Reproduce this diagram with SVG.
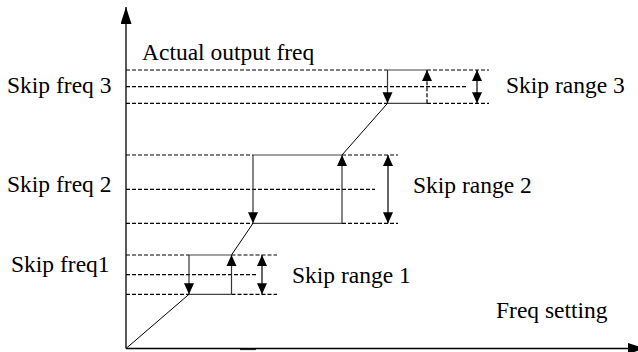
<svg xmlns="http://www.w3.org/2000/svg" width="638" height="352" viewBox="0 0 638 352">
  <defs>
    <marker id="ah" markerUnits="userSpaceOnUse" markerWidth="11" markerHeight="11" refX="11" refY="5" orient="auto-start-reverse" viewBox="0 0 11 10">
      <path d="M0,0 L11,5 L0,10 z" fill="#000"/>
    </marker>
    <marker id="axh" markerUnits="userSpaceOnUse" markerWidth="17" markerHeight="11" refX="17" refY="5.5" orient="auto" viewBox="0 0 17 11">
      <path d="M0,0 L17,5.5 L0,11 z" fill="#000"/>
    </marker>
    <style>
      .ax { stroke: #000; stroke-width: 1.3; fill: none; }
      .d { stroke: #000; stroke-width: 1.2; stroke-dasharray: 4 2; fill: none; }
      .s { stroke: #444; stroke-width: 1.2; fill: none; }
      .diag { stroke: #000; stroke-width: 1; fill: none; }
      .arr { stroke: #333; stroke-width: 1.2; fill: none; marker-end: url(#ah); }
      .arrd { stroke: #000; stroke-width: 1.2; stroke-dasharray: 4 2; fill: none; marker-end: url(#ah); }
      .dbl { stroke: #000; stroke-width: 1.2; fill: none; marker-start: url(#ah); marker-end: url(#ah); }
      text { font-family: "Liberation Serif", "Times New Roman", serif; font-size: 23.5px; fill: #000; }
    </style>
  </defs>
  <rect width="638" height="352" fill="#fff"/>

  <g id="axes">
    <line class="ax" x1="126" y1="348.5" x2="126" y2="7" marker-end="url(#axh)"/>
    <line class="ax" x1="126" y1="348.5" x2="645" y2="348.5" marker-end="url(#axh)"/>
    <line x1="240" y1="349.5" x2="256" y2="349.5" stroke="#222" stroke-width="1.2"/>
  </g>

  <g id="connectors">
    <!-- skip 3 band -->
    <line class="d" x1="126" y1="70" x2="387.5" y2="70"/>
    <line class="s" x1="387.5" y1="70" x2="427" y2="70"/>
    <line class="d" x1="427" y1="70" x2="489" y2="70"/>
    <line class="d" x1="126" y1="86.7" x2="467" y2="86.7"/>
    <line class="d" x1="126" y1="103.3" x2="387.5" y2="103.3"/>
    <line class="s" x1="387.5" y1="103.3" x2="427" y2="103.3"/>
    <line class="d" x1="427" y1="103.3" x2="489" y2="103.3"/>
    <line class="arr" x1="387.5" y1="70" x2="387.5" y2="103.3"/>
    <line class="arrd" x1="427" y1="103.3" x2="427" y2="70"/>
    <line class="dbl" x1="477" y1="70" x2="477" y2="103.3"/>

    <!-- skip 2 band -->
    <line class="d" x1="126" y1="155" x2="253" y2="155"/>
    <line class="s" x1="253" y1="155" x2="342" y2="155"/>
    <line class="d" x1="342" y1="155" x2="398" y2="155"/>
    <line class="d" x1="126" y1="189.3" x2="375" y2="189.3"/>
    <line class="d" x1="126" y1="223.3" x2="253" y2="223.3"/>
    <line class="s" x1="253" y1="223.3" x2="342" y2="223.3"/>
    <line class="d" x1="342" y1="223.3" x2="398" y2="223.3"/>
    <line class="arr" x1="253" y1="155" x2="253" y2="223.3"/>
    <line class="arr" x1="342" y1="223.3" x2="342" y2="155"/>
    <line class="dbl" x1="388" y1="155" x2="388" y2="223.3"/>

    <!-- skip 1 band -->
    <line class="d" x1="126" y1="255" x2="189" y2="255"/>
    <line class="s" x1="189" y1="255" x2="231.5" y2="255"/>
    <line class="d" x1="231.5" y1="255" x2="277" y2="255"/>
    <line class="d" x1="126" y1="274.7" x2="258" y2="274.7"/>
    <line class="d" x1="126" y1="294.3" x2="189" y2="294.3"/>
    <line class="s" x1="189" y1="294.3" x2="231.5" y2="294.3"/>
    <line class="d" x1="231.5" y1="294.3" x2="277" y2="294.3"/>
    <line class="arr" x1="189" y1="255" x2="189" y2="294.3"/>
    <line class="arr" x1="231.5" y1="294.3" x2="231.5" y2="255"/>
    <line class="dbl" x1="262" y1="255" x2="262" y2="294.3"/>

    <!-- ramp -->
    <line class="diag" x1="126" y1="348.5" x2="189" y2="294.3"/>
    <line class="diag" x1="231.5" y1="255" x2="253" y2="223.3"/>
    <line class="diag" x1="342" y1="155" x2="387.5" y2="103.3"/>
  </g>

  <g id="label-actual"><text x="142" y="60">Actual output freq</text></g>
  <g id="label-skipfreq3"><text x="7" y="93">Skip freq 3</text></g>
  <g id="label-skiprange3"><text x="506" y="93">Skip range 3</text></g>
  <g id="label-skipfreq2"><text x="7" y="192">Skip freq 2</text></g>
  <g id="label-skiprange2"><text x="413" y="193">Skip range 2</text></g>
  <g id="label-skipfreq1"><text x="11" y="272">Skip freq1</text></g>
  <g id="label-skiprange1"><text x="292" y="283">Skip range 1</text></g>
  <g id="label-freqsetting"><text x="496" y="318">Freq setting</text></g>
</svg>
